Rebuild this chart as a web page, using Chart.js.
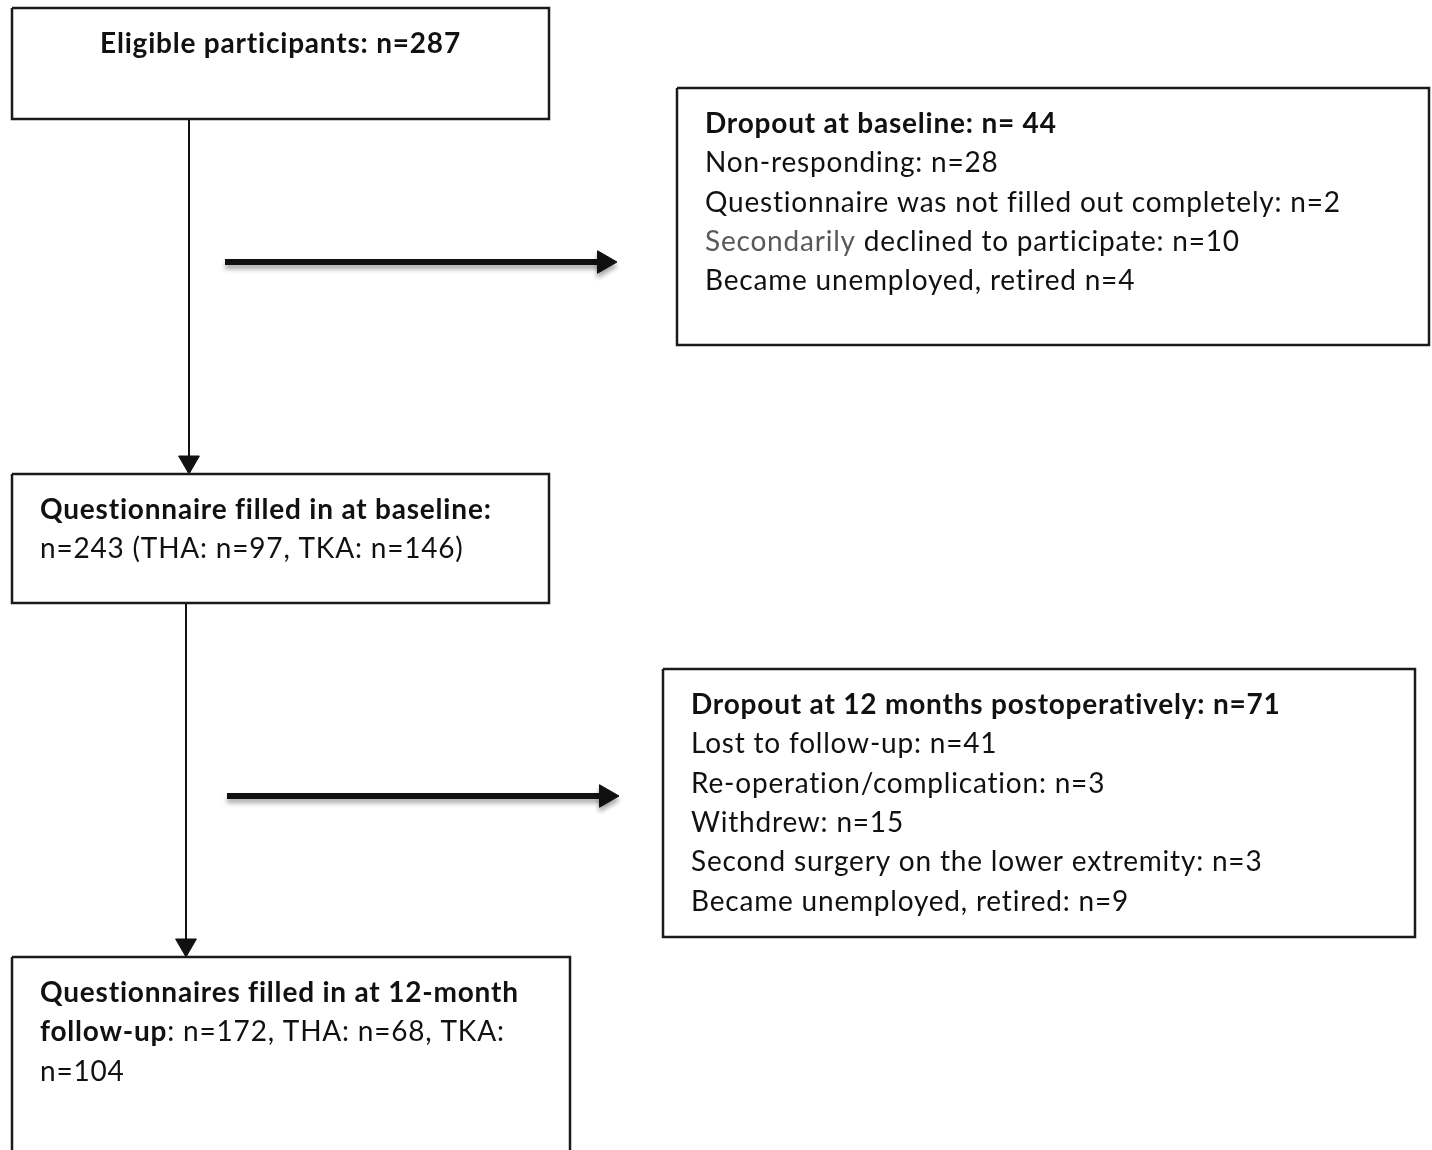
<!DOCTYPE html>
<html lang="en">
<head>
<meta charset="UTF-8">
<title>Participant flow</title>
<script src="https://cdn.jsdelivr.net/npm/chart.js"></script>
<style>
  html, body { margin: 0; padding: 0; background: #fff; }
  #wrap { width: 1432px; height: 1150px; position: relative; }
</style>
</head>
<body>
<div id="wrap"><canvas id="flow"></canvas></div>
<script>
// counts
const eligibleN = 287;
const baselineGroups = ['THA', 'TKA'];
const baselineN = 243;
const baselineGroupN = [97, 146];
const followUpN = 172;
const followUpGroupN = [68, 104];

const dropBaselineN = 44;
const dropBaselineReasons = ['Non-responding: ', 'Questionnaire was not filled out completely: ', 'Secondarily declined to participate: ', 'Became unemployed, retired '];
const dropBaselineCounts = [28, 2, 10, 4];

const drop12N = 71;
const drop12Reasons = ['Lost to follow-up: ', 'Re-operation/complication: ', 'Withdrew: ', 'Second surgery on the lower extremity: ', 'Became unemployed, retired: '];
const drop12Counts = [41, 3, 15, 3, 9];

// layout (in scale units, same as page pixels)
const boxes = [
  { x0: 12,  y0: 8,   x1: 549,  y1: 119,  center: true },
  { x0: 677, y0: 88,  x1: 1429, y1: 345 },
  { x0: 12,  y0: 474, x1: 549,  y1: 603 },
  { x0: 663, y0: 669, x1: 1415, y1: 937 },
  { x0: 12,  y0: 957, x1: 570,  y1: 1175 }
];
const connectors = [
  [{ x: 189, y: 119 }, { x: 189, y: 462 }],
  [{ x: 186, y: 603 }, { x: 186, y: 945 }]
];
const sideArrows = [
  [{ x: 225, y: 262 }, { x: 604, y: 262 }],
  [{ x: 227, y: 796 }, { x: 606, y: 796 }]
];

// text runs per box: [weight, text, colour?]
const boxText = [
  [[['bold', 'Eligible participants: n=' + eligibleN]]],
  [[['bold', 'Dropout at baseline: n= ' + dropBaselineN]]].concat(
    dropBaselineReasons.map((r, i) => i === 2
      ? [['normal', 'Secondarily', '#595959'], ['normal', r.slice('Secondarily'.length) + 'n=' + dropBaselineCounts[i]]]
      : [['normal', r + 'n=' + dropBaselineCounts[i]]])),
  [[['bold', 'Questionnaire filled in at baseline:']],
   [['normal', 'n=' + baselineN + ' (' + baselineGroups.map((g, i) => g + ': n=' + baselineGroupN[i]).join(', ') + ')']]],
  [[['bold', 'Dropout at 12 months postoperatively: n=' + drop12N]]].concat(
    drop12Reasons.map((r, i) => [['normal', r + 'n=' + drop12Counts[i]]])),
  [[['bold', 'Questionnaires filled in at 12-month']],
   [['bold', 'follow-up'], ['normal', ': n=' + followUpN + ', ' + baselineGroups[0] + ': n=' + followUpGroupN[0] + ', ' + baselineGroups[1] + ':']],
   [['normal', 'n=' + followUpGroupN[1]]]]
];

const INK = '#111111';
const FONT = 'Lato';
const FONT_SIZE = 28;
const LETTER_SPACING = '0.8px';
const LINE_GAP = 39.3;
const PAD_X = 28;
const FIRST_BASE = 45;

function boxOutline(b) {
  return [
    { x: b.x0, y: b.y0 }, { x: b.x1, y: b.y0 }, { x: b.x1, y: b.y1 },
    { x: b.x0, y: b.y1 }, { x: b.x0, y: b.y0 }
  ];
}

const lastPoint = (ctx) => ctx.dataIndex === ctx.dataset.data.length - 1;

const datasets = [];
boxes.forEach(b => datasets.push({
  data: boxOutline(b), showLine: true, borderColor: '#1a1a1a', borderWidth: 2.5,
  pointRadius: 0, fill: false, tension: 0
}));
connectors.forEach(c => datasets.push({
  data: c, showLine: true, borderColor: INK, borderWidth: 2,
  pointStyle: 'triangle', pointRotation: 180,
  pointRadius: ctx => lastPoint(ctx) ? 12 : 0,
  pointBackgroundColor: INK, pointBorderColor: INK, pointBorderWidth: 1
}));
sideArrows.forEach(a => datasets.push({
  data: a, showLine: true, borderColor: INK, borderWidth: 6, borderCapStyle: 'butt',
  pointStyle: 'triangle', pointRotation: 90,
  pointRadius: ctx => lastPoint(ctx) ? 13 : 0,
  pointBackgroundColor: INK, pointBorderColor: INK, pointBorderWidth: 1,
  shadow: true
}));

const shadowPlugin = {
  id: 'shadow',
  beforeDatasetDraw(chart, args) {
    chart.ctx.save();
    if (args.meta._dataset.shadow) {
      chart.ctx.shadowColor = 'rgba(0,0,0,0.35)';
      chart.ctx.shadowBlur = 5;
      chart.ctx.shadowOffsetY = 4;
    }
  },
  afterDatasetDraw(chart) { chart.ctx.restore(); }
};

const textPlugin = {
  id: 'boxText',
  afterDatasetsDraw(chart) {
    const { ctx, scales: { x, y } } = chart;
    ctx.save();
    ctx.textBaseline = 'alphabetic';
    ctx.letterSpacing = LETTER_SPACING;
    boxes.forEach((b, bi) => {
      const left = x.getPixelForValue(b.x0);
      const right = x.getPixelForValue(b.x1);
      const top = y.getPixelForValue(b.y0);
      boxText[bi].forEach((runs, li) => {
        const base = top + FIRST_BASE + li * LINE_GAP;
        const widths = runs.map(r => {
          ctx.font = r[0] + ' ' + FONT_SIZE + 'px ' + FONT;
          return ctx.measureText(r[1]).width;
        });
        const total = widths.reduce((s, w) => s + w, 0);
        let cx = b.center ? (left + right) / 2 - total / 2 : left + PAD_X;
        runs.forEach((r, ri) => {
          ctx.font = r[0] + ' ' + FONT_SIZE + 'px ' + FONT;
          ctx.fillStyle = r[2] || INK;
          ctx.fillText(r[1], cx, base);
          cx += widths[ri];
        });
      });
    });
    ctx.restore();
  }
};

new Chart(document.getElementById('flow'), {
  type: 'scatter',
  data: { datasets },
  options: {
    responsive: true,
    maintainAspectRatio: false,
    animation: false,
    layout: { padding: 0, autoPadding: false },
    plugins: { legend: { display: false }, tooltip: { enabled: false } },
    scales: {
      x: { type: 'linear', min: 0, max: 1432, display: false },
      y: { type: 'linear', min: 0, max: 1150, reverse: true, display: false }
    }
  },
  plugins: [shadowPlugin, textPlugin]
});
</script>
</body>
</html>
